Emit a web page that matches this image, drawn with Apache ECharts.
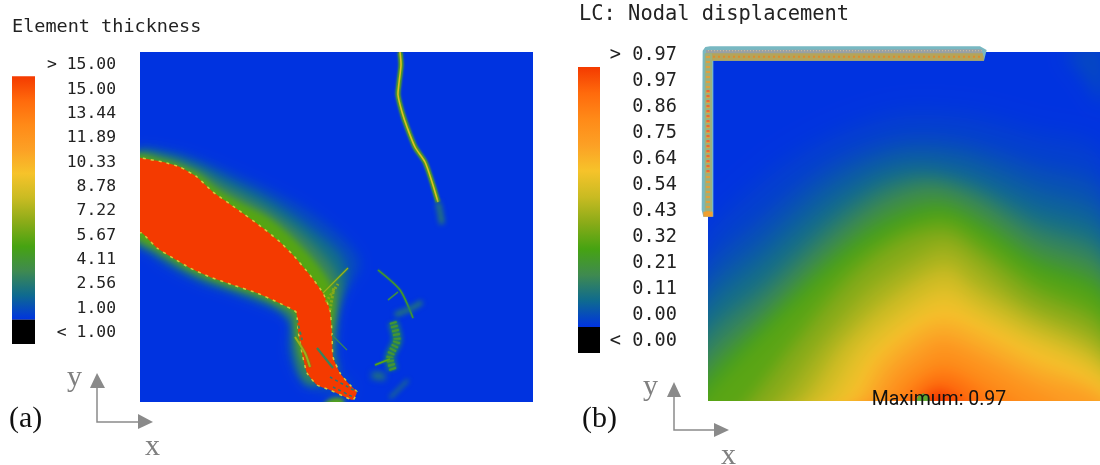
<!DOCTYPE html>
<html><head><meta charset="utf-8">
<style>html,body{margin:0;padding:0;background:#fff}#c{width:1100px;height:465px}</style>
<script src="https://cdn.jsdelivr.net/npm/echarts@6/dist/echarts.min.js"></script>
</head><body><div id="c"></div>
<script>
// ---------- colour scale (top to bottom of the legend bar) ----------
const scaleColors = ['#f43a00','#ff6a0c','#ff8a18','#fca025','#f6c32a','#c9bb22','#8aab18','#46a312','#3f8a50','#0e6a90','#0033e0'];
const thicknessTicks = ['> 15.00','15.00','13.44','11.89','10.33','8.78','7.22','5.67','4.11','2.56','1.00','< 1.00'];
const displacementTicks = ['> 0.97','0.97','0.86','0.75','0.64','0.54','0.43','0.32','0.21','0.11','0.00','< 0.00'];

// ---------- panel (a): thickness contours, x 0-393, y 0-350 ----------
const thicknessBlob = [[-5,244],[1,244],[23,240],[40,235],[57,225],[73,210],[97,193],[123,174],[140,160],[153,147],[170,127],[183,109],[190,92],[192,69],[193,45],[200,29],[210,17],[217,10],[213,2],[203,6],[190,12],[177,17],[167,29],[162,49],[158,72],[156,90],[137,100],[117,109],[93,117],[70,125],[50,134],[33,144],[17,154],[2,169],[-5,170]];
const thicknessLevel16 = [[-5,250],[30,250],[60,242],[90,230],[130,212],[170,190],[205,162],[220,138],[203,108],[197,90],[195,70],[194,48],[200,28],[212,15],[205,5],[185,10],[172,14],[160,25],[150,50],[152,70],[150,88],[135,93],[115,101],[90,110],[65,118],[45,127],[25,138],[10,150],[-5,160]];
const thicknessLevel25 = [[-5,248],[30,247],[60,237],[88,223],[128,203],[165,178],[200,148],[207,125],[198,95],[194,70],[193,45],[195,30],[170,18],[160,30],[152,55],[151,80],[135,95],[115,103],[91,112],[67,120],[47,129],[28,140],[12,150],[-5,162]];
const thicknessLevel35 = [[-5,246],[30,243],[58,232],[82,218],[125,195],[160,170],[188,142],[200,118],[195,80],[193,45],[195,30],[170,18],[160,30],[155,55],[153,80],[136,97],[116,106],[92,114],[69,122],[49,131],[31,141],[15,151],[-5,165]];
const thicknessLevel55 = [[-5,245],[25,241],[45,234],[60,227],[76,214],[100,200],[128,185],[150,167],[174,142],[192,115],[194,90],[191,70],[185,40],[165,40],[160,50],[156,72],[155,89],[136,99],[116,108],[92,116],[69,124],[49,133],[32,143],[16,153],[-5,168]];
const thicknessPatch = [[190,3],[203,3],[203,-6],[182,-6]];
const thicknessFields = [thicknessLevel16, thicknessLevel25, thicknessLevel35, thicknessLevel55, thicknessPatch];
const thicknessFieldValues = [1.6, 2.5, 3.5, 5.5, 5.5];
const thicknessFieldBlur = [12, 10, 8, 6, 4];

const crackMain = [[260,350],[261,337],[259,319],[258,307],[262,290],[267,275],[275,255],[285,240],[292,220],[298,200]];
const crackMainTail = [[298,200],[300,190],[302,178]];
const crackRay = [[183,109],[208,134]];
const crackFan1 = [[186,100],[198,118]];
const crackFan2 = [[190,92],[194,115]];
const crackRight = [[192,67],[207,52]];
const crackFlank = [[155,65],[165,49],[170,35]];
const crackInner = [[177,54],[193,34]];
const crackTail1 = [[190,25],[217,10]];
const crackTail2 = [[193,15],[213,5]];
const crackLeft = [[157,82],[162,62]];
const crackA = [[238,132],[260,112],[273,84]];
const crackB = [[248,102],[258,110]];
const crackC = [[255,87],[272,94],[282,100]];
const crackMesh = [[253,80],[257,62],[250,45],[253,32]];
const crackD = [[235,37],[250,43]];
const crackE = [[232,27],[245,25]];
const crackF = [[250,4],[268,22]];
const cracks = [crackMain,crackMain,crackMainTail,crackRay,crackFan1,crackFan2,crackRight,crackFlank,crackInner,crackTail1,crackTail2,crackLeft,crackA,crackB,crackC,crackMesh,crackMesh,crackD,crackE,crackF];
const crackValues = [5.6,8.6,3.2,7,6.5,6.5,3.6,7,3.5,3,3,3.5,4.8,4,3,2.6,4.4,5.6,3,3];
const crackWidths = [5,1.6,5,1.3,3,3,1.2,2,2.2,1.5,1.5,2,1.3,1.1,5,11,7,1.8,7,3];
const crackDashes = [0,0,0,0,2,2,0,0,0,3,3,3,0,0,0,0,2,0,0,0];
const crackSoft = [2,0,5,0,0,0,0,0,0,0,0,0,0,0,5,4,0,0,6,5];
const crackHalo = [0,1,0,2,0,0,0,2,0,0,0,0,2,1,0,0,2,2,0,0];

// ---------- panel (b): displacement iso-lines, x 24-1200, y 36-1083 (downward) ----------
const iso002 = [[0,620],[200,400],[400,280],[600,215],[800,220],[1000,270],[1210,340]];
const iso005 = [[0,720],[200,520],[400,370],[600,300],[780,305],[1000,370],[1210,450]];
const iso008 = [[0,790],[200,600],[400,430],[600,345],[790,355],[1000,440],[1210,530]];
const iso011 = [[0,850],[200,660],[400,490],[550,405],[670,385],[810,415],[1000,500],[1210,590]];
const iso016 = [[0,915],[200,730],[400,545],[550,445],[680,415],[820,450],[1000,550],[1210,645]];
const iso021 = [[0,985],[200,790],[400,600],[550,490],[690,445],[830,490],[1000,600],[1210,700]];
const iso027 = [[0,1040],[200,840],[400,650],[550,540],[710,490],[840,545],[1000,650],[1210,750]];
const iso032 = [[0,1095],[100,980],[250,830],[450,650],[600,560],[730,525],[850,585],[1000,690],[1210,795]];
const iso038 = [[130,1100],[280,910],[450,710],[600,600],[735,565],[835,625],[1000,745],[1210,860]];
const iso043 = [[210,1100],[350,920],[500,750],[640,655],[735,615],[825,670],[975,790],[1210,915]];
const iso049 = [[280,1100],[420,910],[560,775],[735,675],[820,735],[975,830],[1210,960]];
const iso054 = [[340,1100],[470,920],[600,810],[735,735],[820,790],[960,870],[1210,1000]];
const iso059 = [[395,1100],[510,940],[630,840],[735,790],[840,840],[960,900],[1210,1030]];
const iso064 = [[450,1100],[540,960],[650,870],[735,840],[860,890],[990,960],[1210,1065]];
const iso070 = [[490,1100],[570,990],[660,915],[730,885],[830,925],[1000,1010],[1210,1090]];
const iso075 = [[525,1100],[600,1010],[680,950],[730,925],[820,960],[970,1040],[1080,1100]];
const iso081 = [[565,1100],[630,1030],[695,985],[735,975],[800,1000],[900,1060],[960,1100]];
const iso086 = [[600,1100],[660,1040],[710,1010],[760,1015],[830,1060],[870,1100]];
const iso092 = [[630,1100],[680,1055],[720,1040],[770,1060],[810,1100]];
const iso097 = [[660,1100],[695,1070],[730,1065],[760,1100]];
const isoLines = [iso002,iso005,iso008,iso011,iso016,iso021,iso027,iso032,iso038,iso043,iso049,iso054,iso059,iso064,iso070,iso075,iso081,iso086,iso092,iso097];
const isoValues = [0.02,0.05,0.08,0.11,0.16,0.21,0.27,0.32,0.38,0.43,0.49,0.54,0.59,0.64,0.70,0.75,0.81,0.86,0.92,0.97];
const isoBlur = [22,20,18,16,16,16,16,16,16,16,16,16,16,16,16,14,14,12,10,8];
const cornerPatch = [[1100,36],[1210,20],[1210,190],[1150,110]];
const cornerValue = 0.035;

// loading frame (L-shaped mesh) in the same units as panel (b)
const frameOuter = [[8,32],[16,21],[30,19],[840,19],[860,30],[852,62],[40,62],[40,530],[10,530],[5,510]];
const frameTopUpper = [[18,30],[845,28],[848,42],[18,42]];
const frameTopLower = [[18,40],[848,40],[852,62],[36,62],[18,60]];
const frameLeft = [[14,40],[36,40],[36,520],[14,520]];
const frameSeamTop = [[24,50],[850,50]];
const frameSeamUpper = [[24,32],[845,32]];
const frameSeamLeft = [[24,48],[24,520]];
const frameHotLeft = [[24,150],[24,400]];
const frameCap = [[10,515],[38,515],[38,530],[10,530]];
const peakMark = [[648,1083],[655,1068],[670,1060],[685,1068],[692,1083]];

const chart = echarts.init(document.getElementById('c'));
const mono = '"DejaVu Sans Mono"';
const serif = '"Liberation Serif"';
const SHIFT = 3000;

function colourFor(frac){ return echarts.color.lerp(1-Math.max(0,Math.min(1,frac)), scaleColors); }
function hidden(i,min,max,extra){ return Object.assign({gridIndex:i,type:'value',min:min,max:max,show:false},extra||{}); }
function catAxis(i,ticks,margin,size){
  return {gridIndex:i,type:'category',inverse:true,position:'right',data:ticks,axisLine:{show:false},axisTick:{show:false},
    axisLabel:{margin:margin,align:'right',fontFamily:mono,fontSize:size,color:'#222',interval:0}};
}
// Legend: white over-range band, one continuous gradient across ten bands, black under-range band.
function legendSeries(i,ticks){
  return {type:'custom',xAxisIndex:i,yAxisIndex:i,silent:true,animation:false,clip:false,
    data:ticks.map((t,k)=>[1,k]),
    renderItem(p,api){
      const k=api.value(1), n=ticks.length;
      if(k>1 && k<n-1) return null;
      const band=api.size([0,1])[1], c=api.coord([0,k]), w=api.coord([1,k])[0]-c[0];
      const y=c[1]-band/2-1, h=(k===1?n-2:1)*band;
      const fill = k===0 ? '#ffffff' : k===n-1 ? '#000000'
        : new echarts.graphic.LinearGradient(0,0,0,1,scaleColors.map((col,j)=>({offset:j/(scaleColors.length-1),color:col})));
      return {type:'rect',shape:{x:c[0],y:y,width:w,height:h},style:{fill:fill}};
    }};
}

// A field level is painted as its blurred silhouette only, so the levels melt into each other.
function softStyle(c,blur){ return {fill:c,shadowColor:c,shadowBlur:blur,shadowOffsetX:SHIFT}; }
function shifted(pts){ return pts.map(q=>[q[0]-SHIFT,q[1]]); }

function fieldSeries(ax,list,vals,blurs,norm,closing){
  return {type:'custom',xAxisIndex:ax,yAxisIndex:ax,clip:true,silent:true,animation:false,
    data:vals.map((v,i)=>[i,v]),
    renderItem(p,api){
      const i=api.value(0), c=colourFor(norm(api.value(1)));
      const pts=shifted(list[i].concat(closing).map(q=>api.coord(q)));
      return {type:'polygon',shape:{points:pts,smooth:0.3},style:softStyle(c,blurs[i])};
    }};
}
const normT=v=>(v-1)/14, normD=v=>v/0.97;
function polySeries(ax,items,clip){
  return {type:'custom',xAxisIndex:ax,yAxisIndex:ax,clip:clip,silent:true,animation:false,
    data:items.map((_,i)=>[i,0]),
    renderItem(p,api){ return items[api.value(0)](api); }};
}
const pc=(api,l)=>l.map(q=>api.coord(q));

chart.setOption({
  animation:false,
  backgroundColor:'#ffffff',
  title:[
    {text:'Element thickness',left:7,top:13,textStyle:{fontFamily:mono,fontSize:18.5,fontWeight:'normal',color:'#222'}},
    {text:'LC: Nodal displacement',left:574,top:0,textStyle:{fontFamily:mono,fontSize:20.4,fontWeight:'normal',color:'#222'}}
  ],
  grid:[
    {left:12,top:53,width:23,height:292,show:false},
    {left:140,top:52,width:393,height:350,show:true,backgroundColor:'#0033e0',borderWidth:0},
    {left:578,top:42,width:22,height:312,show:false},
    {left:708,top:52,width:392,height:349,show:true,backgroundColor:'#0033e0',borderWidth:0}
  ],
  xAxis:[hidden(0,0,1),hidden(1,0,393),hidden(2,0,1),hidden(3,24,1200)],
  yAxis:[catAxis(0,thicknessTicks,81,16.4),hidden(1,0,350),catAxis(2,displacementTicks,77,18.6),hidden(3,36,1083,{inverse:true})],
  series:[
    legendSeries(0,thicknessTicks),
    fieldSeries(1,thicknessFields,thicknessFieldValues,thicknessFieldBlur,normT,[]),
    polySeries(1,[api=>({type:'polygon',shape:{points:pc(api,thicknessBlob),smooth:0.15},style:{fill:colourFor(1),stroke:'#d4c83a',lineWidth:1.5,lineDash:[3,5]}})],true),
    {type:'custom',xAxisIndex:1,yAxisIndex:1,clip:true,silent:true,animation:false,
      data:cracks.map((_,i)=>[i,crackValues[i]]),
      renderItem(p,api){
        const i=api.value(0), c=colourFor(normT(api.value(1)));
        if(crackSoft[i]){
          return {type:'polyline',shape:{points:shifted(pc(api,cracks[i])),smooth:0.25},
            style:{fill:null,stroke:c,lineWidth:crackWidths[i],shadowColor:c,shadowBlur:crackSoft[i],shadowOffsetX:SHIFT}};
        }
        return {type:'polyline',shape:{points:pc(api,cracks[i]),smooth:0.25},
          style:{fill:null,stroke:c,lineWidth:crackWidths[i],lineDash:crackDashes[i]?[crackDashes[i],crackDashes[i]]:null,shadowColor:colourFor(normT(5)),shadowBlur:crackHalo[i]}};
      }},
    legendSeries(2,displacementTicks),
    fieldSeries(3,isoLines,isoValues,isoBlur,normD,[[1300,1300],[-100,1300]]),
    fieldSeries(3,[cornerPatch],[cornerValue],[18],normD,[]),
    polySeries(3,[api=>({type:'polygon',shape:{points:pc(api,peakMark)},style:{fill:'#5fa832'}})],true),
    polySeries(3,[
      api=>({type:'polygon',shape:{points:pc(api,frameOuter)},style:{fill:'#78b8c2'}}),
      api=>({type:'polygon',shape:{points:pc(api,frameTopUpper)},style:{fill:'#98a0a4'}}),
      api=>({type:'polygon',shape:{points:pc(api,frameTopLower)},style:{fill:'#b4a45a'}}),
      api=>({type:'polygon',shape:{points:pc(api,frameLeft)},style:{fill:'#9cb07c'}}),
      api=>({type:'polyline',shape:{points:pc(api,frameSeamTop)},style:{stroke:'#de8a2c',lineWidth:2,lineDash:[2,3],fill:null}}),
      api=>({type:'polyline',shape:{points:pc(api,frameSeamUpper)},style:{stroke:'#c8b8a0',lineWidth:1.2,lineDash:[1,2],fill:null}}),
      api=>({type:'polyline',shape:{points:pc(api,frameSeamLeft)},style:{stroke:'#dca040',lineWidth:4,lineDash:[2,3],fill:null}}),
      api=>({type:'polyline',shape:{points:pc(api,frameHotLeft)},style:{stroke:'#e8683a',lineWidth:3,lineDash:[2,3],fill:null}}),
      api=>({type:'polygon',shape:{points:pc(api,frameCap)},style:{fill:'#f0a030'}})
    ],false)
  ],
  graphic:{elements:[
    {type:'text',x:939,y:400,z:50,style:{text:'Maximum: 0.97',font:'19.5px Roboto',fill:'#111',textAlign:'center',textVerticalAlign:'middle'}},
    {type:'text',x:9,y:419,z:50,style:{text:'(a)',font:'30px '+serif,fill:'#111',textVerticalAlign:'middle'}},
    {type:'text',x:582,y:419,z:50,style:{text:'(b)',font:'30px '+serif,fill:'#111',textVerticalAlign:'middle'}},
    {type:'text',x:67,y:378,z:50,style:{text:'y',font:'30px '+serif,fill:'#808080',textVerticalAlign:'middle'}},
    {type:'text',x:145,y:447,z:50,style:{text:'x',font:'30px '+serif,fill:'#808080',textVerticalAlign:'middle'}},
    {type:'text',x:643,y:387,z:50,style:{text:'y',font:'30px '+serif,fill:'#808080',textVerticalAlign:'middle'}},
    {type:'text',x:721,y:456,z:50,style:{text:'x',font:'30px '+serif,fill:'#808080',textVerticalAlign:'middle'}},
    {type:'polyline',shape:{points:[[97,385],[97,422],[138,422]]},style:{stroke:'#8a8a8a',lineWidth:1.5,fill:null}},
    {type:'polygon',shape:{points:[[97,373],[90,388],[105,388]]},style:{fill:'#8a8a8a'}},
    {type:'polygon',shape:{points:[[153,422],[138,414],[138,429]]},style:{fill:'#8a8a8a'}},
    {type:'polyline',shape:{points:[[674,395],[674,430],[714,430]]},style:{stroke:'#8a8a8a',lineWidth:1.5,fill:null}},
    {type:'polygon',shape:{points:[[674,382],[667,397],[681,397]]},style:{fill:'#8a8a8a'}},
    {type:'polygon',shape:{points:[[729,430],[714,423],[714,437]]},style:{fill:'#8a8a8a'}}
  ]}
});
</script></body></html>
